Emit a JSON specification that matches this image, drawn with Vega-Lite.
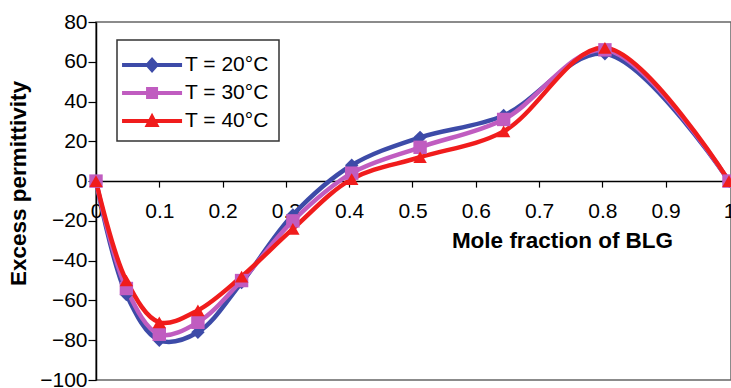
{
  "$schema": "https://vega.github.io/schema/vega-lite/v6.json",
  "autosize": {"type": "none"},
  "padding": {"left": 96, "top": 22, "right": 0, "bottom": 8},
  "width": 635,
  "height": 358,
  "background": "white",
  "config": {
    "view": {"stroke": "#666666", "strokeWidth": 1.5},
    "font": "Liberation Sans"
  },
  "data": {
    "values": [
      {"x": 0, "T": "T = 20°C", "S": "a", "v": 0},
      {"x": 0.048, "T": "T = 20°C", "S": "a", "v": -57},
      {"x": 0.1, "T": "T = 20°C", "S": "a", "v": -80},
      {"x": 0.161, "T": "T = 20°C", "S": "a", "v": -76},
      {"x": 0.23, "T": "T = 20°C", "S": "a", "v": -51},
      {"x": 0.311, "T": "T = 20°C", "S": "a", "v": -17},
      {"x": 0.404, "T": "T = 20°C", "S": "a", "v": 8},
      {"x": 0.512, "T": "T = 20°C", "S": "a", "v": 22},
      {"x": 0.644, "T": "T = 20°C", "S": "a", "v": 33},
      {"x": 0.804, "T": "T = 20°C", "S": "a", "v": 64},
      {"x": 1, "T": "T = 20°C", "S": "a", "v": 0},
      {"x": 0, "T": "T = 30°C", "S": "b", "v": 0},
      {"x": 0.048, "T": "T = 30°C", "S": "b", "v": -54},
      {"x": 0.1, "T": "T = 30°C", "S": "b", "v": -77},
      {"x": 0.161, "T": "T = 30°C", "S": "b", "v": -71},
      {"x": 0.23, "T": "T = 30°C", "S": "b", "v": -50},
      {"x": 0.311, "T": "T = 30°C", "S": "b", "v": -20},
      {"x": 0.404, "T": "T = 30°C", "S": "b", "v": 4},
      {"x": 0.512, "T": "T = 30°C", "S": "b", "v": 17},
      {"x": 0.644, "T": "T = 30°C", "S": "b", "v": 31},
      {"x": 0.804, "T": "T = 30°C", "S": "b", "v": 66},
      {"x": 1, "T": "T = 30°C", "S": "b", "v": 0},
      {"x": 0, "T": "T = 40°C", "S": "c", "v": 0},
      {"x": 0.048, "T": "T = 40°C", "S": "c", "v": -50},
      {"x": 0.1, "T": "T = 40°C", "S": "c", "v": -71},
      {"x": 0.161, "T": "T = 40°C", "S": "c", "v": -65},
      {"x": 0.23, "T": "T = 40°C", "S": "c", "v": -48},
      {"x": 0.311, "T": "T = 40°C", "S": "c", "v": -24},
      {"x": 0.404, "T": "T = 40°C", "S": "c", "v": 1},
      {"x": 0.512, "T": "T = 40°C", "S": "c", "v": 12},
      {"x": 0.644, "T": "T = 40°C", "S": "c", "v": 25},
      {"x": 0.804, "T": "T = 40°C", "S": "c", "v": 67},
      {"x": 1, "T": "T = 40°C", "S": "c", "v": 0}
    ]
  },
  "encoding": {
    "x": {
      "field": "x", "type": "quantitative",
      "scale": {"domain": [0, 1.0032], "nice": false, "zero": false},
      "axis": {
        "orient": "bottom", "offset": -198.9,
        "values": [0, 0.1, 0.2, 0.3, 0.4, 0.5, 0.6, 0.7, 0.8, 0.9, 1],
        "format": "~g", "grid": false,
        "domainColor": "#000000", "domainWidth": 1.5,
        "tickColor": "#000000", "tickWidth": 1.2, "tickSize": 6,
        "labelFontSize": 21, "labelColor": "#000000", "labelPadding": 13,
        "labelOverlap": false, "labelBound": false, "labelFlush": false,
        "title": "Mole fraction of BLG",
        "titleFontSize": 22.5, "titleFontWeight": "bold", "titleColor": "#000000",
        "titleX": 466, "titleY": 59, "titleAlign": "center", "titleBaseline": "middle"
      }
    },
    "y": {
      "field": "v", "type": "quantitative",
      "scale": {"domain": [-100, 80], "nice": false},
      "axis": {
        "values": [-100, -80, -60, -40, -20, 0, 20, 40, 60, 80],
        "grid": false,
        "domainColor": "#000000", "domainWidth": 1.5,
        "tickColor": "#000000", "tickWidth": 1.2, "tickSize": 8,
        "labelFontSize": 21, "labelColor": "#000000", "labelPadding": 1,
        "labelOverlap": false, "labelBound": false, "labelFlush": false,
        "title": "Excess permittivity",
        "titleFontSize": 22.5, "titleFontWeight": "bold", "titleColor": "#000000",
        "titleAngle": -90, "titleX": -78, "titleY": 161,
        "titleAlign": "center", "titleBaseline": "middle"
      }
    },
    "color": {
      "field": "T", "type": "nominal",
      "scale": {"domain": ["T = 20°C", "T = 30°C", "T = 40°C"], "range": ["#3D4BA8", "#C05CC0", "#F01C1C"]},
      "legend": {
        "orient": "none", "legendX": 21, "legendY": 18,
        "title": null,
        "strokeColor": "#333333", "padding": 10,
        "fillColor": "white",
        "symbolSize": 900, "symbolStrokeWidth": 0, "symbolOpacity": 1,
        "labelFontSize": 21, "labelColor": "#000000", "labelOffset": 28,
        "rowPadding": 3,
        "encode": {
          "legend": {"update": {"strokeWidth": {"value": 1.5}}},
          "symbols": {
            "update": {
              "shape": {"signal": "datum.value == 'T = 20°C' ? 'M-1.33,-0.14L2.67,-0.14L2.67,0.14L-1.33,0.14Z M0.67,-0.54L1.14,0L0.67,0.54L0.2,0Z' : datum.value == 'T = 30°C' ? 'M-1.33,-0.14L2.67,-0.14L2.67,0.14L-1.33,0.14Z M0.27,-0.4L1.07,-0.4L1.07,0.4L0.27,0.4Z' : 'M-1.33,-0.14L2.67,-0.14L2.67,0.14L-1.33,0.14Z M0.67,-0.55L1.17,0.4L0.17,0.4Z'"},
              "fill": {"scale": "color", "field": "value"},
              "strokeWidth": {"value": 0}
            }
          }
        }
      }
    }
  },
  "layer": [
    {
      "mark": {"type": "line", "interpolate": "catmull-rom", "strokeWidth": 4.5},
      "encoding": {"detail": {"field": "T"}}
    },
    {
      "mark": {"type": "point", "filled": true, "opacity": 1, "size": 180},
      "encoding": {
        "shape": {
          "field": "S", "type": "nominal",
          "scale": {"domain": ["a", "b", "c"], "range": ["diamond", "square", "triangle-up"]},
          "legend": null
        }
      }
    }
  ]
}
